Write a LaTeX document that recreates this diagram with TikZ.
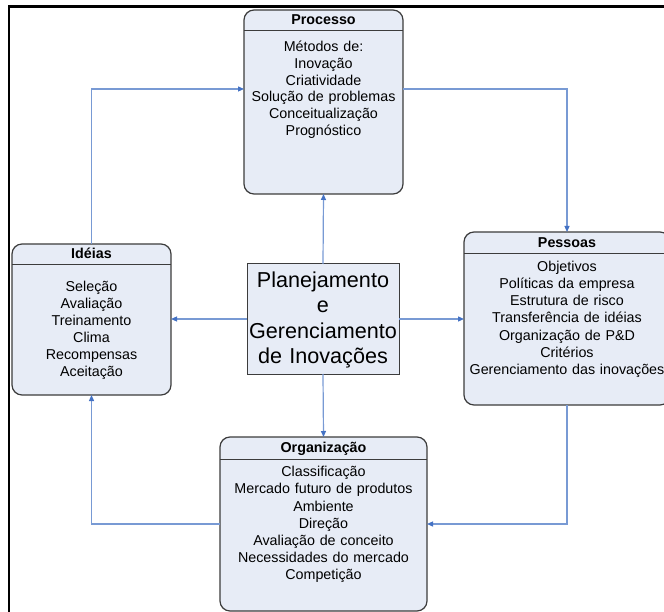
\documentclass[tikz,border=0pt]{standalone}
\usepackage{fontspec}
\setmainfont{Liberation Sans}
\usetikzlibrary{arrows.meta}

\definecolor{boxfill}{RGB}{231,236,246}
\definecolor{boxline}{RGB}{60,60,60}
\definecolor{linkline}{RGB}{120,154,212}
\definecolor{linktip}{RGB}{68,114,196}

\begin{document}
\begin{tikzpicture}[x=1pt,y=-1pt,
  card/.style={draw=boxline, fill=boxfill, line width=1.2pt, rounded corners=10pt,
    inner sep=0pt, outer sep=0pt, anchor=north west},
  hub/.style={draw=boxline, fill=boxfill, line width=1pt, inner sep=0pt,
    outer sep=0pt, anchor=north west},
  divider/.style={draw=boxline, line width=1pt},
  heading/.style={anchor=base, inner sep=0pt, font=\fontsize{14.3}{17}\selectfont\bfseries},
  items/.style={anchor=base, inner sep=0pt, text width=220pt, align=center,
    font=\fontsize{14.3}{#1}\selectfont},
  items/.default=17.1,
  hubtext/.style={anchor=base, inner sep=0pt, text width=200pt, align=center,
    font=\fontsize{21.6}{25.5}\selectfont},
  link/.style={draw=linkline, line width=1.2pt,
    -{Triangle[length=6pt,width=5pt,color=linktip]}},
]
\useasboundingbox (0,0) rectangle (664,612);

% outer frame (top and left edges)
\draw[line width=2.5pt] (680,6.7) -- (8.8,6.7) -- (8.8,630);

% boxes
\node[card, minimum width=159pt, minimum height=184pt] (proc) at (244,10) {};
\node[card, minimum width=159pt, minimum height=151pt] (ideias) at (12,244) {};
\node[card, minimum width=206pt, minimum height=173pt] (pessoas) at (464,232) {};
\node[card, minimum width=207pt, minimum height=174pt] (org) at (220,437) {};
\node[hub, minimum width=152pt, minimum height=110pt] (hub) at (247,264) {};

% header dividers
\draw[divider] ([yshift=-21pt]proc.north west) -- ([yshift=-21pt]proc.north east);
\draw[divider] ([yshift=-21pt]ideias.north west) -- ([yshift=-21pt]ideias.north east);
\draw[divider] ([yshift=-22pt]pessoas.north west) -- ([yshift=-22pt]pessoas.north east);
\draw[divider] ([yshift=-22pt]org.north west) -- ([yshift=-22pt]org.north east);

% headings
\node[heading] (proc-title) at (proc.north |- 0,24.3) {Processo};
\node[heading] (ideias-title) at (ideias.north |- 0,258.3) {Idéias};
\node[heading] (pessoas-title) at (pessoas.north |- 0,247.7) {Pessoas};
\node[heading] (org-title) at (org.north |- 0,452.7) {Organização};

% contents
\node[items=16.7] (proc-body) at (proc.north |- 0,51.7)
  {Métodos de:\\Inovação\\Criatividade\\Solução de problemas\\Conceitualização\\Prognóstico};
\node[items=17] (ideias-body) at (ideias.north |- 0,291.5)
  {Seleção\\Avaliação\\Treinamento\\Clima\\Recompensas\\Aceitação};
\node[items=17.1] (pessoas-body) at (pessoas.north |- 0,271.7)
  {Objetivos\\Políticas da empresa\\Estrutura de risco\\Transferência de idéias\\Organização de P\&D\\Critérios\\Gerenciamento das inovações};
\node[items=17.2] (org-body) at (org.north |- 0,476.7)
  {Classificação\\Mercado futuro de produtos\\Ambiente\\Direção\\Avaliação de conceito\\Necessidades do mercado\\Competição};
\node[hubtext] (hub-text) at (hub.north |- 0,287.3)
  {Planejamento\\e\\Gerenciamento\\de Inovações};

% connectors from the hub
\draw[link] (hub.north) -- (proc.south);
\draw[link] (hub.south) -- (org.north);
\draw[link] (hub.west) -- (hub.west -| ideias.east);
\draw[link] (hub.east) -- (hub.east -| pessoas.west);

% outer cycle
\draw[link] (ideias.north) |- ([yshift=13pt]proc.west);
\draw[link] ([yshift=13pt]proc.east) -| (pessoas.north);
\draw[link] (pessoas.south) |- (org.east);
\draw[link] (org.west) -| (ideias.south);
\end{tikzpicture}
\end{document}
